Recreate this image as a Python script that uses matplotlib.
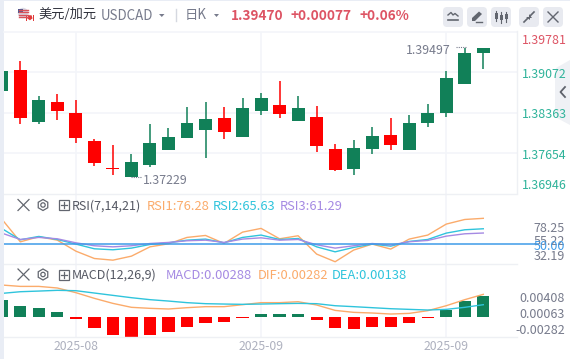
import matplotlib
matplotlib.use("Agg")
import matplotlib.pyplot as plt
from matplotlib.patches import FancyBboxPatch, Polygon, Rectangle, Circle, RegularPolygon

plt.rcParams['font.family'] = ['Noto Sans CJK SC', 'DejaVu Sans']

# ---------- data ----------
opens = [1.38749,1.39113,1.38198,1.38550,1.38356,1.37864,1.37389,1.37230,1.37441,1.37705,1.37916,1.38057,
         1.38268,1.37934,1.38391,1.38497,1.38215,1.38286,1.37723,1.37371,1.37723,1.37969,1.37705,1.38180,
         1.38356,1.38866,1.39412]
closes = [1.39095,1.38268,1.38585,1.38391,1.37916,1.37476,1.37371,1.37493,1.37828,1.37934,1.38180,1.38251,
          1.38022,1.38444,1.38620,1.38338,1.38444,1.37776,1.37353,1.37740,1.37952,1.37793,1.38180,1.38356,
          1.38972,1.39412,1.39497]
highs = [1.39095,1.39271,1.38655,1.38690,1.38585,1.37899,1.37793,1.37635,1.38163,1.38092,1.38462,1.38550,
         1.38462,1.38620,1.38708,1.38919,1.38655,1.38479,1.37811,1.37881,1.38110,1.38268,1.38321,1.38514,
         1.39095,1.39497,1.39497]
lows = [1.38749,1.38163,1.38163,1.38233,1.37828,1.37424,1.37265,1.37229,1.37406,1.37705,1.37916,1.37564,
        1.37899,1.37934,1.38321,1.38268,1.38215,1.37670,1.37336,1.37265,1.37635,1.37705,1.37705,1.38110,
        1.38286,1.38866,1.39130]
rsi1 = [75.5,52.3,57.5,54.0,42.8,35.3,33.6,37.7,47.2,50.3,56.8,58.8,50.7,62.2,66.0,55.4,58.5,39.8,32.0,43.9,
        50.0,44.9,55.1,59.2,70.4,75.1,76.28]
rsi2 = [65.9,54.4,57.8,54.7,50.0,45.2,44.2,45.9,49.6,51.3,54.0,55.1,51.3,56.8,59.2,54.7,55.7,47.2,42.1,46.6,
        50.0,47.9,52.7,54.7,61.2,64.6,65.63]
rsi3 = [61.2,54.7,56.8,55.4,51.3,48.3,47.2,48.3,50.6,51.7,53.4,54.0,51.7,55.1,56.4,54.0,54.7,49.3,45.9,48.3,
        50.6,49.0,52.4,53.7,58.1,60.5,61.29]
hist = [.00233,.00151,.00123,.00069,-.00027,-.00151,-.00247,-.00274,-.00247,-.00206,-.00137,-.00082,-.00069,
        -.00014,.00041,.00041,.00041,-.00041,-.00151,-.00165,-.00137,-.00137,-.00082,-.00014,.00101,.00219,.00288]
dif = [.00439,.00420,.00420,.00398,.00334,.00256,.00187,.00133,.00119,.00110,.00128,.00142,.00142,.00169,.00197,
       .00197,.00210,.00165,.00091,.00064,.00055,.00041,.00050,.00087,.00155,.00238,.00311]
dea = [.00324,.00347,.00356,.00366,.00361,.00329,.00297,.00265,.00238,.00219,.00197,.00183,.00178,.00174,.00178,
       .00183,.00187,.00183,.00155,.00142,.00128,.00114,.00105,.00096,.00105,.00133,.00169]
price_ticks = [1.39072, 1.38363, 1.37654]
time_ticks = [4, 14, 24]
time_labels = ['2025-08', '2025-09', '2025-09']

# ---------- styles ----------
W, H = 570, 359
UP = '#118058'; DOWN = '#fe0000'; GRID = '#f3f5f9'; TXT = '#777b8c'
ORANGE = '#fbab6b'; CYAN = '#2fc4dc'; PURPLE = '#a58ae3'; HEAD_RED = '#dd5464'; TEAL = '#2fb39a'
LATIN = 'Noto Sans CJK SC'
fig = plt.figure(figsize=(W/100, H/100), dpi=100, facecolor='white')

def pane(top, bottom):
    a = fig.add_axes([4/W, 1-bottom/H, (517-4)/W, (bottom-top)/H])
    a.set_xlim(0.119, 27.82)
    a.patch.set_alpha(0)
    a.set_yticks([]); a.set_xticks([])
    for s in a.spines.values():
        s.set_visible(False)
    for t in time_ticks:
        a.axvline(t, color=GRID, lw=1.2, zorder=0)
    return a

# ---------- UI layer ----------
ui = fig.add_axes([0, 0, 1, 1], zorder=5)
ui.set_xlim(0, W); ui.set_ylim(H, 0); ui.axis('off'); ui.patch.set_alpha(0)
ui.add_patch(Rectangle((0, 0), 3.5, H, color='#e9edf5', lw=0))
ui.add_patch(Rectangle((0, 0), W, 1.2, color='#e9edf5', lw=0))
ui.plot([4, 517], [31.5, 31.5], color=GRID, lw=1.2)
ui.plot([4, 517], [193.5, 193.5], color='#eef0f4', lw=1)
ui.plot([4, 517], [263.5, 263.5], color='#eef0f4', lw=1)
ui.plot([4, 517], [337, 337], color='#eef0f4', lw=1)
ui.plot([517, 517], [31, 193], color='#eef0f4', lw=1)

# flag icon
ui.add_patch(Circle((23, 13), 5.2, color='#d9dbe6', lw=0))
for yy in (9.5, 12, 14.5, 17):
    ui.plot([18.5, 27.5], [yy, yy], color='#d8525a', lw=1)
ui.add_patch(Rectangle((18, 8.5), 5, 4, color='#4a5b94', lw=0))
ui.add_patch(Circle((30, 18), 4.2, color='white', lw=0))
ui.add_patch(Rectangle((25.5, 14.5), 1.8, 6.5, color='#e03a3a', lw=0))
ui.add_patch(Rectangle((32.5, 14.5), 1.8, 6.5, color='#e03a3a', lw=0))
ui.add_patch(RegularPolygon((29.9, 17.5), 5, radius=2.8, color='#e03a3a', lw=0))

ui.text(38, 14.5, '美元/加元', fontsize=9.5, color='#30323c', va='center', ha='left')
ui.text(100.5, 16.5, 'USDCAD', fontsize=9.6, color=TXT, va='center', ha='left', family=LATIN)
ui.add_patch(Polygon([[159, 14], [164.5, 14], [161.8, 17]], color=TXT, lw=0))
ui.plot([175.5, 175.5], [9, 21], color='#d5d8e0', lw=1)
ui.text(185, 14.5, '日K', fontsize=9.6, color=TXT, va='center', ha='left')
ui.add_patch(Polygon([[214, 14], [219, 14], [216.5, 17]], color=TXT, lw=0))
ui.text(230.5, 15.5, '1.39470', fontsize=9.8, color=HEAD_RED, weight='bold', va='center', ha='left', family=LATIN)
ui.text(290.5, 15.5, '+0.00077', fontsize=9.8, color=HEAD_RED, weight='bold', va='center', ha='left', family=LATIN)
ui.text(360, 15.5, '+0.06%', fontsize=9.8, color=HEAD_RED, weight='bold', va='center', ha='left', family=LATIN)

# toolbar buttons
for x0 in (443, 467, 491, 519, 543):
    ui.add_patch(FancyBboxPatch((x0+3, 10), 14, 14, boxstyle='round,pad=3,rounding_size=4', lw=0, color='#e8eaf0'))
ic = '#62666f'
ui.plot([448, 451, 453, 455, 458], [15, 12.5, 15, 13.5, 16], color=ic, lw=1)
ui.plot([448, 458], [20, 20], color=ic, lw=1.2)
ui.add_patch(Polygon([[472, 21], [472, 18], [479, 11.5], [482, 14], [475, 21]], color=ic, lw=0))
ui.plot([476, 482], [21.5, 21.5], color=ic, lw=1)
for xx, y0, y1, t0, t1 in ((496, 13, 19, 11, 21), (501, 15, 20, 12, 23), (506, 14, 19, 12, 22)):
    ui.plot([xx, xx], [t0, t1], color=ic, lw=0.8)
    ui.add_patch(Rectangle((xx-1.5, y0), 3, y1-y0, color=ic, lw=0))
ui.plot([524, 528], [22, 18], color=ic, lw=1.2)
ui.plot([530, 534], [16, 12], color=ic, lw=1.2)
ui.add_patch(Polygon([[526, 16.5], [529.5, 16.5], [529.5, 20]], color=ic, lw=0))
ui.add_patch(Polygon([[528.5, 14], [528.5, 17.5], [532, 17.5]], color=ic, lw=0))
ui.plot([548, 558], [12, 22], color=ic, lw=1)
ui.plot([558, 548], [12, 22], color=ic, lw=1)

# collapse tab
ui.add_patch(Polygon([[570, 60], [556, 68], [555, 72], [555, 114], [557, 118], [570, 125]], color='#eff1f5', lw=0))
ui.plot([565, 560.5, 565], [87, 92, 97], color='#5f636c', lw=1.3)

# price labels
for txt, yy, col in (('1.39781', 40.5, HEAD_RED), ('1.39072', 74.5, TEAL), ('1.38363', 114.5, TEAL),
                     ('1.37654', 155.5, TEAL), ('1.36946', 185.5, TEAL)):
    ui.text(522, yy, txt, fontsize=8.9, color=col, va='center', ha='left', family=LATIN)
ui.text(451, 50.5, '1.39497', fontsize=8.9, color=TXT, va='center', ha='right', family=LATIN)
ui.text(143, 180.5, '1.37229', fontsize=8.9, color=TXT, va='center', ha='left', family=LATIN)
ui.plot([456, 466], [46.5, 46.5], color=TXT, lw=0.8, ls=(0, (1, 1)))
ui.plot([131, 142], [177, 177], color=TXT, lw=0.8, ls=(0, (1, 1)))

# indicator headers
def head(y, name):
    ui.plot([18, 29], [y-5.5, y+5.5], color=ic, lw=0.9)
    ui.plot([29, 18], [y-5.5, y+5.5], color=ic, lw=0.9)
    ui.add_patch(RegularPolygon((43, y), 6, radius=5.5, fill=False, ec=ic, lw=0.9))
    ui.add_patch(Circle((43, y), 2.2, fill=False, ec=ic, lw=0.9))
    ui.add_patch(Rectangle((58.5, y-5), 10, 10, fill=False, ec=ic, lw=0.9))
    ui.plot([60.5, 66.5], [y, y], color=ic, lw=0.9)
    ui.plot([63.5, 63.5], [y-3, y+3], color=ic, lw=0.9)
    ui.text(72, y+1, name, fontsize=9, color='#555863', va='center', ha='left', family=LATIN)

head(205, 'RSI(7,14,21)')
head(274.5, 'MACD(12,26,9)')
for x, s, c, y in ((146.5, 'RSI1:76.28', ORANGE, 206), (213, 'RSI2:65.63', CYAN, 206), (279.5, 'RSI3:61.29', PURPLE, 206),
                   (165.5, 'MACD:0.00288', PURPLE, 275.5), (258, 'DIF:0.00282', ORANGE, 275.5), (332, 'DEA:0.00138', CYAN, 275.5)):
    ui.text(x, y, s, fontsize=9.3, color=c, va='center', ha='left', family=LATIN)

for txt, yy in (('78.25', 229), ('55.22', 241.5), ('32.19', 256.5)):
    ui.text(565, yy, txt, fontsize=9, color=TXT, va='center', ha='right', family=LATIN)
ui.text(565, 246.5, '50.00', fontsize=9, color='#3f9be8', va='center', ha='right', family=LATIN)
for txt, yy in (('0.00408', 298), ('0.00063', 314), ('-0.00282', 330.5)):
    ui.text(565, yy, txt, fontsize=9, color=TXT, va='center', ha='right', family=LATIN)

# ---------- price pane ----------
ax = pane(31.5, 193.5)
ax.set_ylim(1.36943, 1.39793)
for p in price_ticks:
    ax.axhline(p, color=GRID, lw=1.2, zorder=0)
for i, (o, c, h, l) in enumerate(zip(opens, closes, highs, lows)):
    col = UP if c >= o else DOWN
    ax.vlines(i, l, h, color=col, lw=1.1, zorder=2)
    ax.bar(i, abs(c-o), bottom=min(o, c), width=0.70, color=col, lw=0, zorder=3)

# ---------- RSI pane ----------
r = pane(193.5, 263.5)
r.set_ylim(30.2, 101.6)
r.axhline(50, color='#3f9be8', lw=1.1, zorder=4, xmax=1.04, clip_on=False)
xs = range(len(rsi1))
r.plot(xs, rsi1, color=ORANGE, lw=1, zorder=3)
r.plot(xs, rsi2, color=CYAN, lw=1, zorder=3)
r.plot(xs, rsi3, color=PURPLE, lw=1, zorder=3)

# ---------- MACD pane ----------
m = pane(263.5, 337)
m.set_ylim(-.00274, .00734)
m.bar(list(xs), hist, width=0.66, color=[UP if v >= 0 else DOWN for v in hist], lw=0, zorder=2)
m.plot(xs, dif, color=ORANGE, lw=1, zorder=3)
m.plot(xs, dea, color=CYAN, lw=1, zorder=3)
for t, lab in zip(time_ticks, time_labels):
    m.annotate(lab, (t, 0), xycoords=('data', 'axes fraction'), xytext=(0, -2.5), textcoords='offset points',
               fontsize=8.8, color='#aeb1bf', ha='center', va='top', family=LATIN, annotation_clip=False)

fig.savefig('out.png', dpi=100, facecolor='white')
